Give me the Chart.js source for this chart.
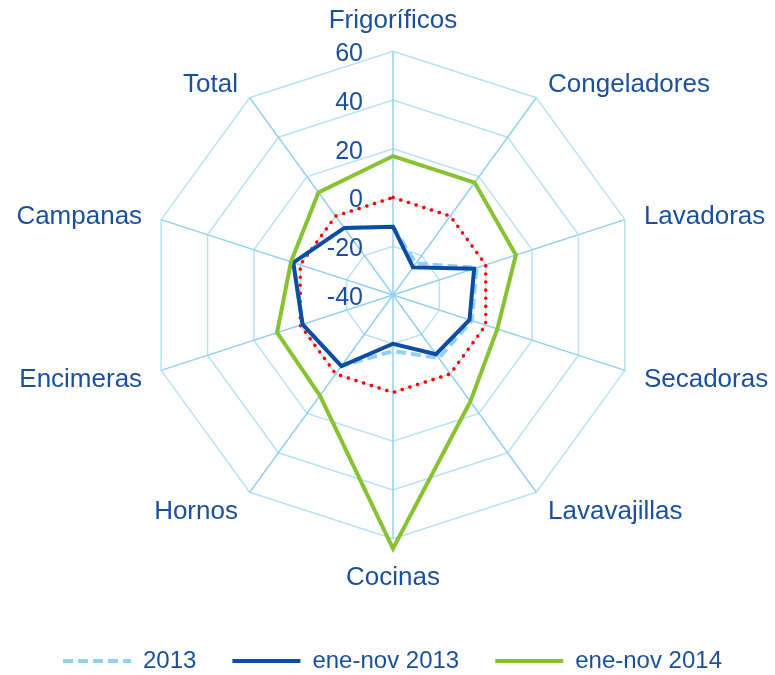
<!DOCTYPE html>
<html>
<head>
<meta charset="utf-8">
<script src="https://cdn.jsdelivr.net/npm/chart.js@4"></script>
<style>
  body { margin: 0; background: #fff; }
  #contenedor { width: 775px; height: 675px; }
</style>
</head>
<body>
<div id="contenedor"><canvas id="grafica" width="775" height="675"></canvas></div>
<script>
// datos (variación %)
var categorias = ['Frigoríficos', 'Congeladores', 'Lavadoras', 'Secadoras', 'Lavavajillas',
                  'Cocinas', 'Hornos', 'Encimeras', 'Campanas', 'Total'];
var serie2013 = [-12, -24, -4, -6, -8, -17, -4, -1, 3, -6];
var eneNov2013 = [-12, -26, -5, -7, -10, -20, -4, -1, 3, -6];
var eneNov2014 = [17, 17, 13, 5, 14, 64, 11, 10, 4, 12];
var lineaCero = [0, 0, 0, 0, 0, 0, 0, 0, 0, 0];
var ejeMin = -40, ejeMax = 60, ejePaso = 20;

var colorTexto = '#1A4F9E';
var fuente = '"Liberation Sans", Arial, sans-serif';
var sepEtiqueta = 20;

// etiquetas del eje a la izquierda del eje vertical y nombres centrados en su punto
var etiquetasEje = {
  id: 'etiquetasEje',
  afterDatasetsDraw: function(chart) {
    var escala = chart.scales.r;
    var ctx = chart.ctx;
    ctx.save();
    ctx.font = '25px ' + fuente;
    ctx.fillStyle = colorTexto;
    ctx.textAlign = 'right';
    ctx.textBaseline = 'middle';
    escala.ticks.forEach(function(t) {
      var d = escala.getDistanceFromCenterForValue(t.value);
      ctx.fillText(t.label, escala.xCenter - 30, escala.yCenter - d + 3);
    });

    ctx.font = '26px ' + fuente;
    var n = categorias.length;
    for (var i = 0; i < n; i++) {
      var p = escala.getPointPosition(i, escala.drawingArea + sepEtiqueta);
      var grados = i * 360 / n;
      if (grados === 0) {
        ctx.textAlign = 'center'; ctx.textBaseline = 'bottom';
      } else if (grados === 180) {
        ctx.textAlign = 'center'; ctx.textBaseline = 'top';
      } else {
        ctx.textAlign = grados < 180 ? 'left' : 'right';
        ctx.textBaseline = 'middle';
      }
      ctx.fillText(categorias[i], p.x, p.y + (grados === 180 ? 6 : 3));
    }
    ctx.restore();
  }
};

var grafica = new Chart(document.getElementById('grafica').getContext('2d'), {
  type: 'radar',
  data: {
    labels: categorias,
    datasets: [
      {
        label: '2013',
        data: serie2013,
        borderColor: '#8ED1F2',
        borderWidth: 4,
        borderDash: [10, 5],
        order: 2
      },
      {
        label: 'ene-nov 2013',
        data: eneNov2013,
        borderColor: '#0C4DA2',
        borderWidth: 4,
        order: 1
      },
      {
        label: 'ene-nov 2014',
        data: eneNov2014,
        borderColor: '#86C232',
        borderWidth: 4,
        order: 0
      },
      {
        label: 'cero',
        data: lineaCero,
        borderColor: '#FF0000',
        borderWidth: 3.5,
        borderDash: [0.1, 8],
        borderCapStyle: 'round',
        order: 3
      }
    ]
  },
  options: {
    responsive: false,
    animation: false,
    layout: { padding: { top: 0, bottom: -8, left: 15, right: 5 } },
    elements: {
      line: { fill: false, tension: 0 },
      point: { radius: 0, hoverRadius: 0 }
    },
    scales: {
      r: {
        min: ejeMin,
        max: ejeMax,
        ticks: { stepSize: ejePaso, display: false },
        grid: { color: '#B8E2F6', lineWidth: 1.5 },
        angleLines: { color: '#92D0F0', lineWidth: 1.5 },
        pointLabels: {
          color: 'rgba(0,0,0,0)',
          padding: sepEtiqueta,
          font: { family: fuente, size: 26 }
        }
      }
    },
    plugins: {
      tooltip: { enabled: false },
      legend: {
        position: 'bottom',
        // título vacío: sólo deja hueco entre el radar y la leyenda
        title: { display: true, text: ' ', font: { size: 12 }, padding: 4 },
        labels: {
          color: colorTexto,
          font: { family: fuente, size: 24 },
          usePointStyle: true,
          pointStyle: 'line',
          pointStyleWidth: 68,
          padding: 36,
          filter: function(item) { return item.text !== 'cero'; },
          sort: function(a, b) { return a.datasetIndex - b.datasetIndex; },
          generateLabels: function(chart) {
            var items = Chart.defaults.plugins.legend.labels.generateLabels(chart);
            items.forEach(function(it) {
              var ds = chart.data.datasets[it.datasetIndex];
              it.lineDash = ds.borderDash || [];
              it.lineWidth = ds.borderWidth;
            });
            return items;
          }
        }
      }
    }
  },
  plugins: [etiquetasEje]
});
</script>
</body>
</html>
